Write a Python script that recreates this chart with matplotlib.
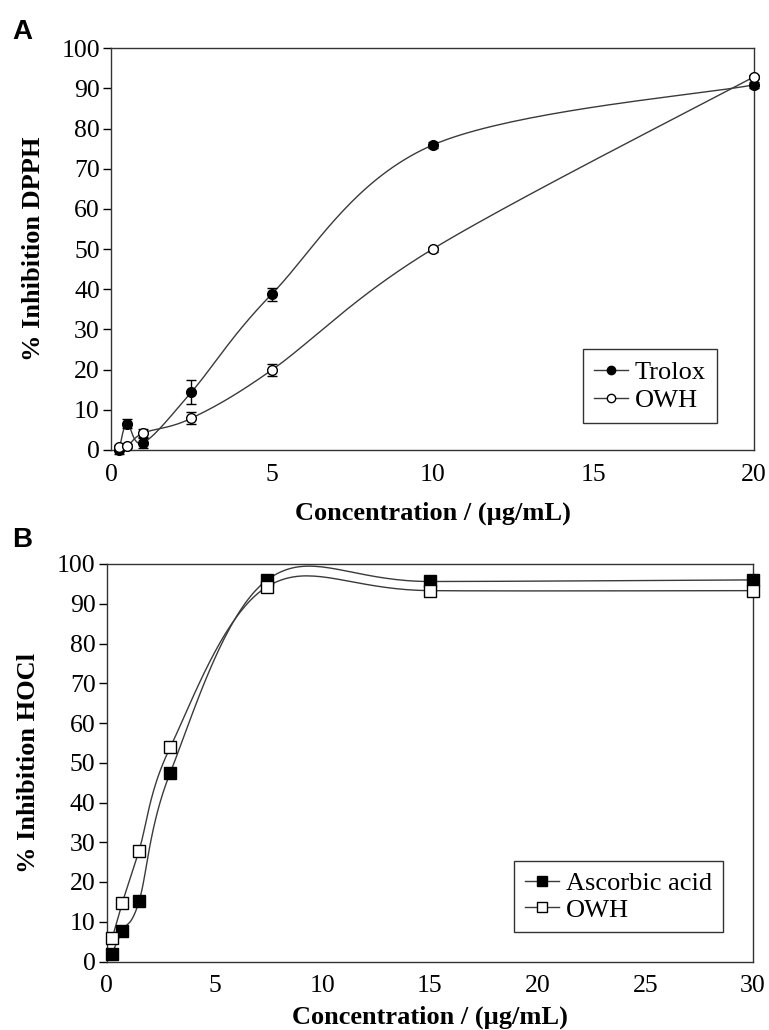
import numpy as np
import matplotlib
matplotlib.use("Agg")
import matplotlib.pyplot as plt
from matplotlib.lines import Line2D

# ---------------- data ----------------
conc_a = [0.25, 0.5, 1, 2.5, 5, 10, 20]
trolox = [0.0, 6.5, 1.8, 14.4, 38.8, 75.9, 90.9]
trolox_err = [1.0, 1.1, 1.2, 3.0, 1.6, 0.8, 0.8]
owh_a = [0.8, 0.9, 4.2, 7.9, 19.9, 50.0, 92.9]
owh_a_err = [0.5, 0.5, 1.0, 1.5, 1.4, 0.6, 0.5]

conc_b = [0.25, 0.72, 1.5, 2.95, 7.45, 15, 30]
ascorbic = [2.0, 7.7, 15.1, 47.5, 96.0, 95.6, 96.0]
owh_b = [5.8, 14.7, 27.9, 53.9, 94.3, 93.3, 93.3]

xticks_a = [0, 5, 10, 15, 20]
xticks_b = [0, 5, 10, 15, 20, 25, 30]
yticks = list(range(0, 101, 10))

plt.rcParams['font.family'] = ['Liberation Serif', 'DejaVu Serif']

LINE = '#3a3a3a'


def smooth(x, y, n=40):
    """Excel-style smoothed line (Catmull-Rom / cubic Bezier)."""
    P = np.column_stack([x, y]).astype(float)
    pts = []
    m = len(P)
    for i in range(m - 1):
        p0 = P[i - 1] if i > 0 else P[i]
        p1 = P[i]
        p2 = P[i + 1]
        p3 = P[i + 2] if i + 2 < m else P[i + 1]
        c1 = p1 + (p2 - p0) / 6.0
        c2 = p2 - (p3 - p1) / 6.0
        t = np.linspace(0, 1, n)[:, None]
        seg = ((1 - t) ** 3) * p1 + 3 * ((1 - t) ** 2) * t * c1 + 3 * (1 - t) * t ** 2 * c2 + t ** 3 * p2
        pts.append(seg if i == 0 else seg[1:])
    S = np.vstack(pts)
    return S[:, 0], S[:, 1]


W, H = 769, 1030
fig = plt.figure(figsize=(W / 100, H / 100), dpi=100)

axA = fig.add_axes([111 / W, 1 - 450 / H, (754 - 111) / W, (450 - 48.3) / H])
axB = fig.add_axes([106.7 / W, 1 - 961.5 / H, (753 - 106.7) / W, (961.5 - 564) / H])

TICKFS = 18.5
LABFS = 19

# ---- panel A ----
for xs, ys, es, mfc in [(conc_a, trolox, trolox_err, 'black'), (conc_a, owh_a, owh_a_err, 'white')]:
    sx, sy = smooth(xs, ys)
    axA.plot(sx, sy, color=LINE, lw=1.0, zorder=2, clip_on=False)
    axA.errorbar(xs, ys, yerr=es, fmt='none', ecolor='black', elinewidth=1.0,
                 capsize=3.5, capthick=1.0, zorder=3, clip_on=False)
    axA.plot(xs, ys, 'o', ms=7, mfc=mfc, mec='black', mew=1.0, zorder=4, clip_on=False)

axA.set_xlim(0, 20)
axA.set_ylim(0, 100)
axA.set_xticks(xticks_a)
axA.set_yticks(yticks)
axA.set_xlabel('Concentration / (µg/mL)', fontsize=LABFS, fontweight='bold', labelpad=11)
axA.set_ylabel('% Inhibition DPPH', fontsize=LABFS, fontweight='bold', labelpad=12)

legA = [Line2D([], [], color=LINE, lw=1.0, marker='o', ms=6, mfc='black', mec='black'),
        Line2D([], [], color=LINE, lw=1.0, marker='o', ms=6, mfc='white', mec='black')]
lA = axA.legend(legA, ['Trolox', 'OWH'], loc='lower right', bbox_to_anchor=(0.9425, 0.067),
                fontsize=19, frameon=True, fancybox=False, edgecolor='black',
                handlelength=1.3, handletextpad=0.25, borderpad=0.42, labelspacing=0.18,
                borderaxespad=0)
lA.get_frame().set_linewidth(1.0)

# ---- panel B ----
for xs, ys, mfc in [(conc_b, ascorbic, 'black'), (conc_b, owh_b, 'white')]:
    sx, sy = smooth(xs, ys)
    axB.plot(sx, sy, color=LINE, lw=1.0, zorder=2, clip_on=False)
    axB.plot(xs, ys, 's', ms=8, mfc=mfc, mec='black', mew=1.0, zorder=4, clip_on=False)

axB.set_xlim(0, 30)
axB.set_ylim(0, 100)
axB.set_xticks(xticks_b)
axB.set_yticks(yticks)
axB.set_xlabel('Concentration / (µg/mL)', fontsize=LABFS, fontweight='bold', labelpad=6)
axB.set_ylabel('% Inhibition HOCl', fontsize=LABFS, fontweight='bold', labelpad=12)

legB = [Line2D([], [], color=LINE, lw=1.0, marker='s', ms=6.5, mfc='black', mec='black'),
        Line2D([], [], color=LINE, lw=1.0, marker='s', ms=6.5, mfc='white', mec='black')]
lB = axB.legend(legB, ['Ascorbic acid', 'OWH'], loc='lower right', bbox_to_anchor=(0.953, 0.074),
                fontsize=19, frameon=True, fancybox=False, edgecolor='black',
                handlelength=1.3, handletextpad=0.25, borderpad=0.4, labelspacing=0.12,
                borderaxespad=0)
lB.get_frame().set_linewidth(1.0)

for ax in (axA, axB):
    for s in ax.spines.values():
        s.set_linewidth(1.0)
        s.set_color('#333333')
    ax.tick_params(axis='y', direction='out', length=6, width=1.0, labelsize=TICKFS, pad=2)
    ax.tick_params(axis='x', direction='out', length=0, labelsize=TICKFS, pad=10)

fig.text(12 / W, 1 - 32 / H, 'A', fontsize=20, fontweight='bold', family='Liberation Sans', va='center')
fig.text(12 / W, 1 - 540 / H, 'B', fontsize=20, fontweight='bold', family='Liberation Sans', va='center')

fig.savefig('out.png', dpi=100)
